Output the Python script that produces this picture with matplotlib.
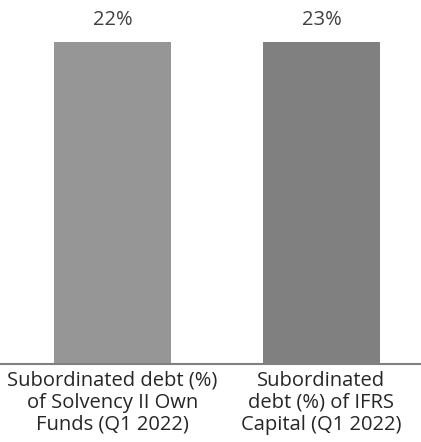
import matplotlib.pyplot as plt

# data
categories = ["Subordinated debt (%)\nof Solvency II Own\nFunds (Q1 2022)",
              "Subordinated\ndebt (%) of IFRS\nCapital (Q1 2022)"]
values = [22, 23]
labels = ["22%", "23%"]
colors = ["#969696", "#808080"]

plt.rcParams['font.family'] = ['Open Sans', 'DejaVu Sans']

fig = plt.figure(figsize=(4.21, 4.42), dpi=100)
ax = fig.add_axes([0, 1 - 364 / 442, 1, (364 - 42) / 442])

x = range(len(values))
ax.bar(x, values, width=0.56, color=colors)
ax.set_xlim(-0.538, 1.476)
# both bars reach the same top in the reference
ax.set_ylim(0, min(values))

for i, lab in enumerate(labels):
    ax.text(i, 1.068, lab, transform=ax.get_xaxis_transform(), ha='center', va='center',
            fontsize=14.5, color='#404040')

ax.set_xticks(list(x))
ax.set_xticklabels(categories, fontsize=14.5, color='#262626', linespacing=1.13)
ax.tick_params(axis='x', length=0, pad=5)
ax.set_yticks([])
for s in ['top', 'right', 'left']:
    ax.spines[s].set_visible(False)
ax.spines['bottom'].set_color('#808080')
ax.spines['bottom'].set_linewidth(1.5)

fig.savefig('out.png', dpi=100)
